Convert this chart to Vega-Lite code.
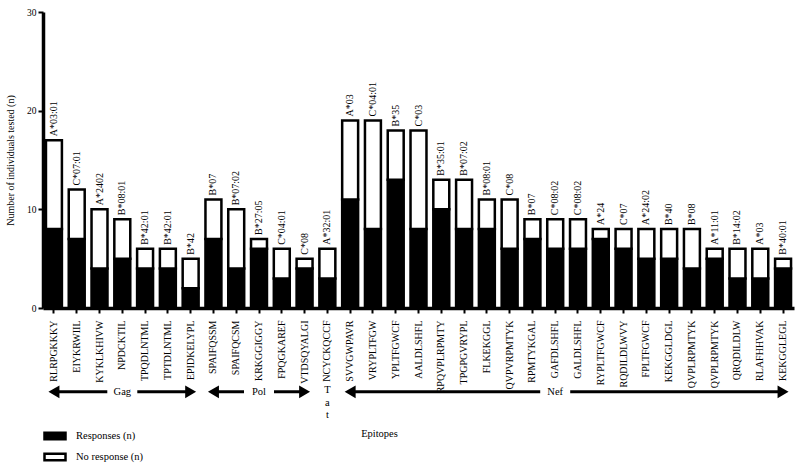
{
  "$schema": "https://vega.github.io/schema/vega-lite/v6.json",
  "width": 751,
  "height": 296,
  "autosize": {"type": "none"},
  "padding": {"left": 43, "top": 12, "right": 6, "bottom": 158},
  "background": "white",
  "config": {
    "view": {"stroke": null},
    "font": "Liberation Serif",
    "text": {"font": "Liberation Serif"}
  },
  "datasets": {
    "bars": [
      {"epitope": "RLRPGKKKY", "hla": "A*03:01", "responses": 8, "total": 17},
      {"epitope": "EIYKRWIIL", "hla": "C*07:01", "responses": 7, "total": 12},
      {"epitope": "KYKLKHIVW", "hla": "A*2402", "responses": 4, "total": 10},
      {"epitope": "NPDCKTIL", "hla": "B*08:01", "responses": 5, "total": 9},
      {"epitope": "TPQDLNTML", "hla": "B*42:01", "responses": 4, "total": 6},
      {"epitope": "TPTDLNTML", "hla": "B*42:01", "responses": 4, "total": 6},
      {"epitope": "EPIDKELYPL", "hla": "B*42", "responses": 2, "total": 5},
      {"epitope": "SPAIFQSSM", "hla": "B*07", "responses": 7, "total": 11},
      {"epitope": "SPAIFQCSM", "hla": "B*07:02", "responses": 4, "total": 10},
      {"epitope": "KRKGGIGGY", "hla": "B*27:05", "responses": 6, "total": 7},
      {"epitope": "FPQGKAREF", "hla": "C*04:01", "responses": 3, "total": 6},
      {"epitope": "VTDSQYALGI", "hla": "C*08", "responses": 4, "total": 5},
      {"epitope": "NCYCKQCCF", "hla": "A*32:01", "responses": 3, "total": 6},
      {"epitope": "SVVGWPAVR", "hla": "A*03", "responses": 11, "total": 19},
      {"epitope": "VRYPLTFGW", "hla": "C*04:01", "responses": 8, "total": 19},
      {"epitope": "YPLTFGWCF", "hla": "B*35", "responses": 13, "total": 18},
      {"epitope": "AALDLSHFL", "hla": "C*03", "responses": 8, "total": 18},
      {"epitope": "RPQVPLRPMTY", "hla": "B*35:01", "responses": 10, "total": 13},
      {"epitope": "TPGPGVRYPL", "hla": "B*07:02", "responses": 8, "total": 13},
      {"epitope": "FLKEKGGL", "hla": "B*08:01", "responses": 8, "total": 11},
      {"epitope": "QVPVRPMTYK", "hla": "C*08", "responses": 6, "total": 11},
      {"epitope": "RPMTYKGAL", "hla": "B*07", "responses": 7, "total": 9},
      {"epitope": "GAFDLSHFL", "hla": "C*08:02", "responses": 6, "total": 9},
      {"epitope": "GALDLSHFL", "hla": "C*08:02", "responses": 6, "total": 9},
      {"epitope": "RYPLTFGWCF", "hla": "A*24", "responses": 7, "total": 8},
      {"epitope": "RQDILDLWVY", "hla": "C*07", "responses": 6, "total": 8},
      {"epitope": "FPLTFGWCF", "hla": "A*24:02", "responses": 5, "total": 8},
      {"epitope": "KEKGGLDGL", "hla": "B*40", "responses": 5, "total": 8},
      {"epitope": "QVPLRPMTYK", "hla": "B*08", "responses": 4, "total": 8},
      {"epitope": "QVPLRPMTYK ", "hla": "A*11:01", "responses": 5, "total": 6},
      {"epitope": "QRQDILDLW", "hla": "B*14:02", "responses": 3, "total": 6},
      {"epitope": "RLAFHHVAK", "hla": "A*03", "responses": 3, "total": 6},
      {"epitope": "KEKGGLEGL", "hla": "B*40:01", "responses": 4, "total": 5}
    ],
    "arrows": [
      {"protein": "Gag", "start": "RLRPGKKKY", "end": "EPIDKELYPL", "mid": "NPDCKTIL"},
      {"protein": "Pol", "start": "SPAIFQSSM", "end": "VTDSQYALGI", "mid": "KRKGGIGGY"},
      {"protein": "Nef", "start": "SVVGWPAVR", "end": "KEKGGLEGL", "mid": "GAFDLSHFL"}
    ],
    "tat": [
      {"protein": "T a t", "mid": "NCYCKQCCF"}
    ]
  },
  "encoding": {
    "x": {
      "field": "epitope",
      "type": "nominal",
      "sort": null,
      "scale": {"paddingInner": 0.3, "paddingOuter": 0.13},
      "axis": {
        "title": "Epitopes",
        "titleFont": "Liberation Serif",
        "titleFontSize": 10.5,
        "titleFontWeight": "normal",
        "titleColor": "black",
        "titleX": 336,
        "titleY": 125,
        "titleAlign": "center",
        "titleBaseline": "middle",
        "labelAngle": -90,
        "labelFont": "Liberation Serif",
        "labelFontSize": 10,
        "labelColor": "black",
        "labelPadding": 7,
        "labelOverlap": false,
        "domainColor": "black",
        "domainWidth": 3.5,
        "tickColor": "black",
        "tickWidth": 2,
        "tickSize": 5
      }
    }
  },
  "layer": [
    {
      "data": {"name": "bars"},
      "mark": {"type": "bar", "stroke": "black", "strokeWidth": 2.5},
      "encoding": {
        "y": {
          "field": "responses",
          "type": "quantitative",
          "scale": {"domain": [0, 30], "nice": false},
          "axis": {
            "title": "Number of individuals tested (n)",
            "titleFont": "Liberation Serif",
            "titleFontSize": 10,
            "titleFontWeight": "normal",
            "titleColor": "black",
            "titleX": -33,
            "titleY": 148,
            "titleAlign": "center",
            "titleBaseline": "middle",
            "values": [0, 10, 20, 30],
            "grid": false,
            "labelFont": "Liberation Serif",
            "labelFontSize": 9.5,
            "labelColor": "black",
            "labelPadding": 2,
            "domainColor": "black",
            "domainWidth": 3.5,
            "tickColor": "black",
            "tickWidth": 2,
            "tickSize": 5
          }
        },
        "fill": {
          "datum": "Responses (n)",
          "type": "nominal",
          "scale": {"domain": ["Responses (n)", "No response (n)"], "range": ["black", "white"]},
          "legend": {
            "title": null,
            "orient": "none",
            "legendX": 0,
            "legendY": 412,
            "symbolType": "M-1,-0.3H1V0.3H-1Z",
            "symbolSize": 441,
            "symbolStrokeColor": "black",
            "symbolStrokeWidth": 2.5,
            "labelFont": "Liberation Serif",
            "labelFontSize": 10.5,
            "labelColor": "black",
            "labelOffset": 9,
            "rowPadding": 0
          }
        }
      }
    },
    {
      "data": {"name": "bars"},
      "mark": {"type": "bar", "stroke": "black", "strokeWidth": 2.5},
      "encoding": {
        "y": {"field": "responses", "type": "quantitative"},
        "y2": {"field": "total"},
        "fill": {"datum": "No response (n)", "type": "nominal"}
      }
    },
    {
      "data": {"name": "bars"},
      "mark": {"type": "text", "angle": -90, "align": "left", "baseline": "middle", "dx": 4, "fontSize": 10, "font": "Liberation Serif", "color": "black"},
      "encoding": {
        "y": {"field": "total", "type": "quantitative"},
        "text": {"field": "hla"}
      }
    },
    {
      "data": {"name": "arrows"},
      "mark": {"type": "rule", "stroke": "black", "strokeWidth": 3},
      "encoding": {
        "x": {"field": "start", "type": "nominal", "sort": null},
        "x2": {"field": "end"},
        "y": {"datum": -8.5}
      }
    },
    {
      "data": {"name": "arrows"},
      "mark": {"type": "point", "shape": "triangle-left", "filled": true, "color": "black", "size": 160, "opacity": 1},
      "encoding": {
        "x": {"field": "start", "type": "nominal", "sort": null},
        "y": {"datum": -8.5}
      }
    },
    {
      "data": {"name": "arrows"},
      "mark": {"type": "point", "shape": "triangle-right", "filled": true, "color": "black", "size": 160, "opacity": 1},
      "encoding": {
        "x": {"field": "end", "type": "nominal", "sort": null},
        "y": {"datum": -8.5}
      }
    },
    {
      "data": {"name": "arrows"},
      "mark": {"type": "point", "shape": "M-1,-0.25H1V0.25H-1Z", "filled": true, "color": "white", "size": 900, "opacity": 1},
      "encoding": {
        "x": {"field": "mid", "type": "nominal", "sort": null},
        "y": {"datum": -8.5}
      }
    },
    {
      "data": {"name": "arrows"},
      "mark": {"type": "text", "fontSize": 10.5, "font": "Liberation Serif", "color": "black", "baseline": "middle", "align": "center"},
      "encoding": {
        "x": {"field": "mid", "type": "nominal", "sort": null},
        "y": {"datum": -8.5},
        "text": {"field": "protein"}
      }
    },
    {
      "data": {"name": "tat"},
      "mark": {"type": "text", "fontSize": 10.5, "font": "Liberation Serif", "color": "black", "baseline": "top", "align": "center", "lineBreak": " ", "lineHeight": 12.5},
      "encoding": {
        "x": {"field": "mid", "type": "nominal", "sort": null},
        "y": {"datum": -7.85},
        "text": {"field": "protein"}
      }
    }
  ]
}
